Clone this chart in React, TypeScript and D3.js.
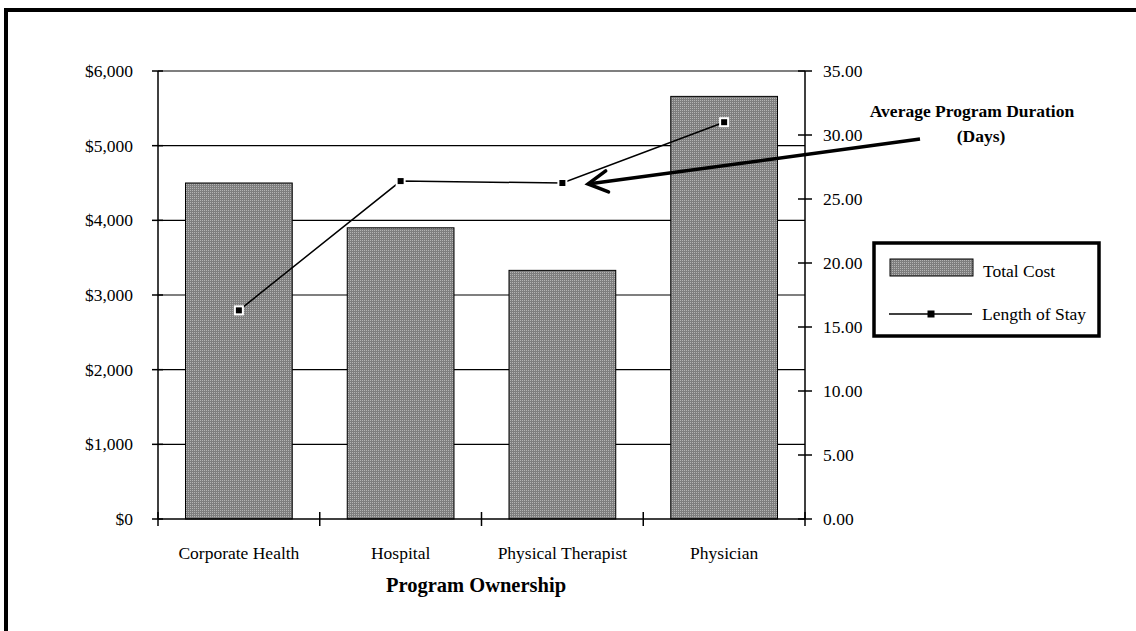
import React from "react";
import * as d3 from "d3";

// Program ownership categories and the two series plotted against them
const categories = ["Corporate Health", "Hospital", "Physical Therapist", "Physician"];
const totalCost = [4500, 3900, 3330, 5660];
const lengthOfStay = [16.3, 26.4, 26.25, 31.0];

const costTicks = [0, 1000, 2000, 3000, 4000, 5000, 6000];
const stayTicks = [0, 5, 10, 15, 20, 25, 30, 35];

const legendLabels = ["Total Cost", "Length of Stay"];
const xTitle = "Program Ownership";
const noteLines = ["Average Program Duration", "(Days)"];

const W = 1136;
const H = 631;
const FONT = "'Liberation Serif', 'Times New Roman', serif";

export default function App() {
  const left = 158;
  const right = 805;
  const top = 71;
  const bottom = 519;

  const x = d3
    .scaleBand<string>()
    .domain(categories)
    .range([left, right])
    .paddingInner(0.34)
    .paddingOuter(0.17);
  const step = x.step();
  const yCost = d3.scaleLinear().domain([0, 6000]).range([bottom, top]);
  const yStay = d3.scaleLinear().domain([0, 35]).range([bottom, top]);

  const money = d3.format("$,.0f");
  const fixed2 = d3.format(".2f");

  const center = (c: string) => (x(c) as number) + x.bandwidth() / 2;
  const linePath = d3
    .line<number>()
    .x((_, i) => center(categories[i]))
    .y((d) => yStay(d))(lengthOfStay) as string;

  // Arrow from the note to the Physical Therapist point
  const arrowTip: [number, number] = [588, 184];
  const arrowTail: [number, number] = [920, 139];
  const ang = Math.atan2(arrowTail[1] - arrowTip[1], arrowTail[0] - arrowTip[0]);
  const headLen = 22;
  const headSpread = 0.5;
  const arm1 = [arrowTip[0] + headLen * Math.cos(ang + headSpread), arrowTip[1] + headLen * Math.sin(ang + headSpread)];
  const arm2 = [arrowTip[0] + headLen * Math.cos(ang - headSpread), arrowTip[1] + headLen * Math.sin(ang - headSpread)];

  const tickFont = 17.5;

  return (
    <svg
      width={W}
      height={H}
      style={{ position: "absolute", left: 0, top: 0, background: "#fff" }}
      fontFamily={FONT}
    >
      <defs>
        <pattern id="dither" width="2" height="2" patternUnits="userSpaceOnUse">
          <rect width="2" height="2" fill="#7e7e7e" />
          <rect x="0" y="0" width="1" height="1" fill="#b4b4b4" />
        </pattern>
      </defs>

      {/* outer frame */}
      <rect x={6} y={10} width={W + 10} height={H + 10} fill="none" stroke="#000" strokeWidth={4} />

      {/* gridlines */}
      {costTicks.slice(1).map((t) => (
        <line key={`g${t}`} x1={left} x2={right} y1={yCost(t)} y2={yCost(t)} stroke="#000" strokeWidth={1.2} />
      ))}

      {/* bars */}
      {categories.map((c, i) => (
        <rect
          key={c}
          x={x(c)}
          y={yCost(totalCost[i])}
          width={x.bandwidth()}
          height={bottom - yCost(totalCost[i])}
          fill="url(#dither)"
          stroke="#000"
          strokeWidth={1}
        />
      ))}

      {/* axes */}
      <line x1={left} x2={left} y1={top} y2={bottom} stroke="#000" strokeWidth={1.5} />
      <line x1={right} x2={right} y1={top} y2={bottom} stroke="#000" strokeWidth={1.5} />
      <line x1={left} x2={right} y1={bottom} y2={bottom} stroke="#000" strokeWidth={1.5} />

      {costTicks.map((t) => (
        <g key={`l${t}`}>
          <line x1={left - 6} x2={left + 5} y1={yCost(t)} y2={yCost(t)} stroke="#000" strokeWidth={1.5} />
          <text x={133} y={yCost(t)} dy="0.35em" textAnchor="end" fontSize={tickFont}>
            {money(t)}
          </text>
        </g>
      ))}

      {stayTicks.map((t) => (
        <g key={`r${t}`}>
          <line x1={right - 7} x2={right + 7} y1={yStay(t)} y2={yStay(t)} stroke="#000" strokeWidth={1.5} />
          <text x={823} y={yStay(t)} dy="0.35em" textAnchor="start" fontSize={tickFont}>
            {fixed2(t)}
          </text>
        </g>
      ))}

      {d3.range(categories.length + 1).map((i) => (
        <line
          key={`c${i}`}
          x1={left + i * step}
          x2={left + i * step}
          y1={bottom - 7}
          y2={bottom + 7}
          stroke="#000"
          strokeWidth={1.5}
        />
      ))}

      {categories.map((c) => (
        <text key={`t${c}`} x={center(c)} y={559} textAnchor="middle" fontSize={tickFont}>
          {c}
        </text>
      ))}

      <text x={476} y={592} textAnchor="middle" fontSize={20.5} fontWeight="bold">
        {xTitle}
      </text>

      {/* length of stay line */}
      <path d={linePath} fill="none" stroke="#000" strokeWidth={1.5} />
      {lengthOfStay.map((v, i) => (
        <rect
          key={`m${i}`}
          x={center(categories[i]) - 4}
          y={yStay(v) - 4}
          width={8}
          height={8}
          fill="#000"
          stroke="#fff"
          strokeWidth={2}
        />
      ))}

      {/* annotation */}
      <text x={972} y={117} textAnchor="middle" fontSize={17.5} fontWeight="bold">
        {noteLines[0]}
      </text>
      <text x={981} y={142} textAnchor="middle" fontSize={17.5} fontWeight="bold">
        {noteLines[1]}
      </text>
      <line x1={arrowTail[0]} y1={arrowTail[1]} x2={arrowTip[0]} y2={arrowTip[1]} stroke="#000" strokeWidth={3.5} />
      <polyline
        points={`${arm1[0]},${arm1[1]} ${arrowTip[0]},${arrowTip[1]} ${arm2[0]},${arm2[1]}`}
        fill="none"
        stroke="#000"
        strokeWidth={3.5}
        strokeLinecap="round"
        strokeLinejoin="miter"
      />

      {/* legend */}
      <rect x={874} y={243} width={225} height={93} fill="#fff" stroke="#000" strokeWidth={3.5} />
      <rect x={890} y={259} width={83} height={17} fill="url(#dither)" stroke="#000" strokeWidth={1} />
      <text x={983} y={277} fontSize={tickFont}>
        {legendLabels[0]}
      </text>
      <line x1={889} x2={972} y1={314} y2={314} stroke="#000" strokeWidth={1.5} />
      <rect x={927.5} y={310.5} width={7} height={7} fill="#000" />
      <text x={982} y={320} fontSize={tickFont}>
        {legendLabels[1]}
      </text>
    </svg>
  );
}
